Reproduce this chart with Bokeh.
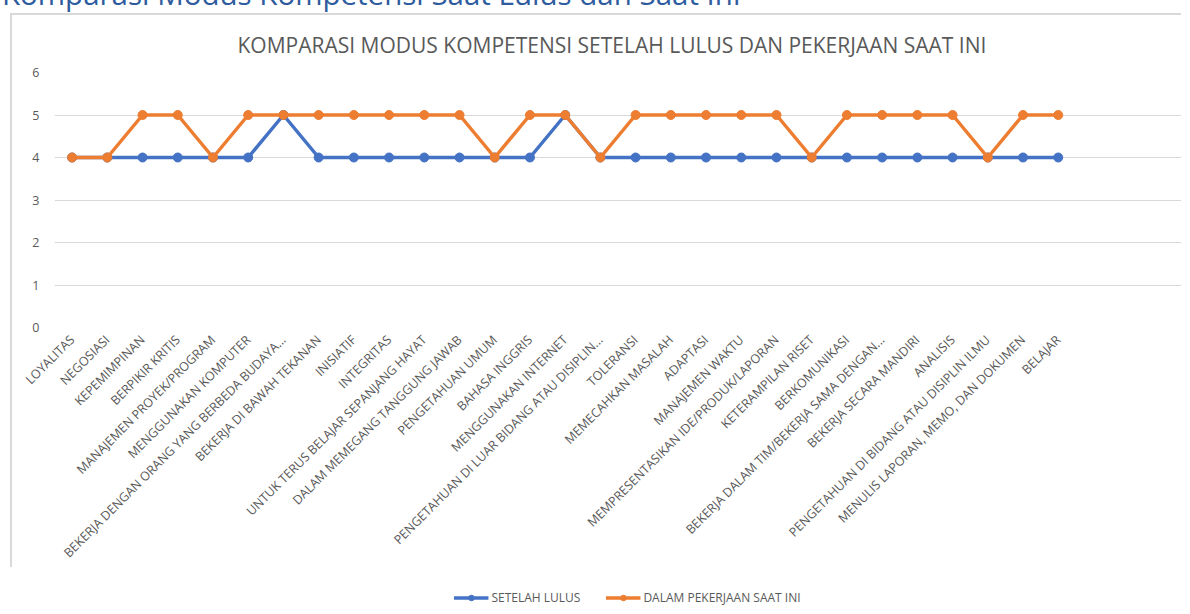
import math
from bokeh.plotting import figure
from bokeh.models import Range1d, FixedTicker, Legend, LegendItem, Div
from bokeh.layouts import column
from bokeh.embed import file_html
from bokeh.resources import INLINE

header = "Komparasi Modus Kompetensi Saat Lulus dan Saat Ini"
chart_title = "KOMPARASI MODUS KOMPETENSI SETELAH LULUS DAN PEKERJAAN SAAT INI"

categories = [
    "LOYALITAS", "NEGOSIASI", "KEPEMIMPINAN", "BERPIKIR KRITIS",
    "MANAJEMEN PROYEK/PROGRAM", "MENGGUNAKAN KOMPUTER",
    "BEKERJA DENGAN ORANG YANG BERBEDA BUDAYA...", "BEKERJA DI BAWAH TEKANAN",
    "INISIATIF", "INTEGRITAS", "UNTUK TERUS BELAJAR SEPANJANG HAYAT",
    "DALAM MEMEGANG TANGGUNG JAWAB", "PENGETAHUAN UMUM", "BAHASA INGGRIS",
    "MENGGUNAKAN INTERNET", "PENGETAHUAN DI LUAR BIDANG ATAU DISIPLIN...",
    "TOLERANSI", "MEMECAHKAN MASALAH", "ADAPTASI", "MANAJEMEN WAKTU",
    "MEMPRESENTASIKAN IDE/PRODUK/LAPORAN", "KETERAMPILAN RISET",
    "BERKOMUNIKASI", "BEKERJA DALAM TIM/BEKERJA SAMA DENGAN...",
    "BEKERJA SECARA MANDIRI", "ANALISIS",
    "PENGETAHUAN DI BIDANG ATAU DISIPLIN ILMU",
    "MENULIS LAPORAN, MEMO, DAN DOKUMEN", "BELAJAR",
]
setelah_lulus = [4, 4, 4, 4, 4, 4, 5, 4, 4, 4, 4, 4, 4, 4, 5, 4, 4, 4, 4, 4, 4, 4, 4, 4, 4, 4, 4, 4, 4]
saat_ini = [4, 4, 5, 5, 4, 5, 5, 5, 5, 5, 5, 5, 4, 5, 5, 4, 5, 5, 5, 5, 5, 4, 5, 5, 5, 5, 4, 5, 5]
y_ticks = [0, 1, 2, 3, 4, 5, 6]
series_names = ["SETELAH LULUS", "DALAM PEKERJAAN SAAT INI"]

BLUE = "#4472C4"
ORANGE = "#ED7D31"
GRAY = "#595959"
FONT = "Open Sans"

xs = list(range(1, len(categories) + 1))

# ---------------- main chart ----------------
p = figure(frame_width=1125, frame_height=253, output_backend="svg", toolbar_location=None,
           x_range=Range1d(0.5, 32.5), y_range=Range1d(0, 6),
           title=chart_title,
           min_border_left=42, min_border_right=2, min_border_top=57,
           min_border_bottom=0,
           styles={"border-left": "2px solid #d9d9d9", "border-top": "2px solid #d9d9d9"})
p.margin = (0, 0, 0, 10)
p.background_fill_color = None
p.border_fill_color = None

p.title.align = "left"
p.title.offset = 183
p.title.text_font = FONT
p.title.text_font_size = "21px"
p.title.text_font_style = "normal"
p.title.text_color = GRAY
p.title.standoff = 27

p.line(xs, setelah_lulus, line_color=BLUE, line_width=3.5)
p.scatter(xs, setelah_lulus, size=9, fill_color=BLUE, line_color=BLUE)
p.line(xs, saat_ini, line_color=ORANGE, line_width=3.5)
p.scatter(xs, saat_ini, size=9, fill_color=ORANGE, line_color=ORANGE)

p.xaxis.ticker = FixedTicker(ticks=xs)
p.xaxis.major_label_overrides = {x: c for x, c in zip(xs, categories)}
p.xaxis.major_label_orientation = math.pi / 4
p.yaxis.ticker = FixedTicker(ticks=y_ticks)
for ax in (p.xaxis[0], p.yaxis[0]):
    ax.axis_line_color = None
    ax.major_tick_line_color = None
    ax.minor_tick_line_color = None
    ax.major_label_text_font = FONT
    ax.major_label_text_color = GRAY
p.xaxis.major_label_text_font_size = "12.5px"
p.yaxis.major_label_text_font_size = "12.5px"
p.yaxis.major_label_standoff = 9
p.xaxis.major_label_standoff = 4

p.xgrid.visible = False
p.ygrid.grid_line_color = "#d9d9d9"
p.ygrid.grid_line_width = 1
p.outline_line_color = None

# ---------------- legend strip (overlaid at the bottom) ----------------
lg = figure(width=400, height=24, output_backend="svg", toolbar_location=None,
            x_range=Range1d(100, 101), y_range=Range1d(100, 101),
            min_border=0, x_axis_location=None, y_axis_location=None,
            styles={"z-index": "5"})
lg.grid.visible = False
lg.outline_line_color = None
lg.background_fill_color = "white"
lg.border_fill_color = "white"
g1 = lg.line(xs, setelah_lulus, line_color=BLUE, line_width=3.5)
g1s = lg.scatter(xs, setelah_lulus, size=9, fill_color=BLUE, line_color=BLUE)
g2 = lg.line(xs, saat_ini, line_color=ORANGE, line_width=3.5)
g2s = lg.scatter(xs, saat_ini, size=9, fill_color=ORANGE, line_color=ORANGE)
legend = Legend(items=[LegendItem(label=series_names[0], renderers=[g1, g1s]),
                       LegendItem(label=series_names[1], renderers=[g2, g2s])],
                orientation="horizontal", location="center",
                label_text_font=FONT, label_text_font_size="12px",
                label_text_color=GRAY, border_line_color=None,
                background_fill_alpha=0, spacing=25, label_standoff=3,
                glyph_width=35, glyph_height=14, label_height=14,
                margin=0, padding=2)
lg.add_layout(legend, "center")
lg.margin = (572, 0, -596, 407)

hdr_html = ('<span style="position:relative; top:-25px; left:-3px; '
            'font-family:\'Open Sans\'; font-size:29.5px; line-height:27px; '
            'color:#2E5C9E; white-space:nowrap;">' + header + '</span>')
hdr = Div(text=hdr_html, width=1170, height=3)

layout = column(hdr, lg, p, spacing=0)
open("out.html", "w").write(file_html(layout, INLINE))
